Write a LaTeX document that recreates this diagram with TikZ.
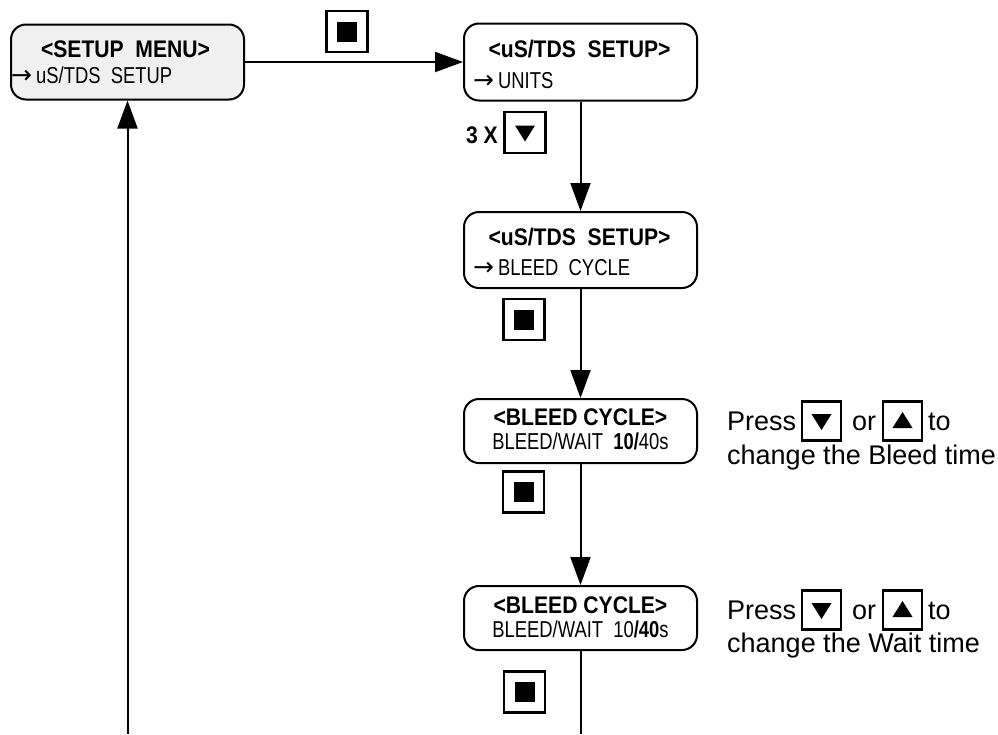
\documentclass[tikz,border=0pt]{standalone}
\usepackage{fontspec}
\setmainfont{Liberation Sans}
\newfontfamily\lcdfont{Liberation Sans}[FakeStretch=0.8]
\newfontfamily\lcdhead{Liberation Sans}[FakeStretch=0.88]
\newfontfamily\arrowfont{DejaVu Sans}
\newcommand{\selarrow}{{\arrowfont\fontsize{25pt}{24pt}\selectfont →}\hspace{4pt}}
\usetikzlibrary{arrows.meta}

\begin{document}
\begin{tikzpicture}[x=1pt, y=-1pt]
        \tikzset{
            screen/.style={draw, line width=2pt, rounded corners=15pt, minimum width=233pt, minimum height=#1, inner sep=0pt},
            head/.style={font=\lcdhead\bfseries\fontsize{24pt}{24pt}\selectfont, inner sep=0pt, anchor=base},
            row/.style={font=\lcdfont\fontsize{23pt}{24pt}\selectfont, inner sep=0pt, anchor=base west},
            note/.style={font=\fontsize{27pt}{30pt}\selectfont, inner sep=0pt, anchor=base west},
            keybox/.style={draw, line width=2.2pt, minimum size=#1, inner sep=0pt},
            stopkey/.style={keybox=41pt, path picture={
                \fill ([shift={(-10pt,-10pt)}]path picture bounding box.center) rectangle ([shift={(10pt,10pt)}]path picture bounding box.center);}},
            downkey/.style={keybox=#1, path picture={
                \fill ([shift={(-10pt,7pt)}]path picture bounding box.center) -- ([shift={(10pt,7pt)}]path picture bounding box.center) -- ([shift={(0pt,-9pt)}]path picture bounding box.center) -- cycle;}},
            upkey/.style={keybox=#1, path picture={
                \fill ([shift={(-10pt,-7pt)}]path picture bounding box.center) -- ([shift={(10pt,-7pt)}]path picture bounding box.center) -- ([shift={(0pt,9pt)}]path picture bounding box.center) -- cycle;}},
            flow/.style={line width=2pt, -{Triangle[length=28pt, width=20pt]}}
        }
        \useasboundingbox (0,0) rectangle (998,734);

        % Screen 1 - Setup menu
        \node[screen=75pt, fill=gray!12] (menu) at (127.5,62) {};
        \node[head] (menuhead) at (125.5,57) {<SETUP~~MENU>};
        \node[row] (menurow) at (11,83) {\selarrow uS/TDS~~SETUP};

        % Screen 2 - Units
        \node[screen=77pt] (units) at (580.5,62) {};
        \node[head] (unitshead) at (579.5,57) {<uS/TDS~~SETUP>};
        \node[row] (unitsrow) at (473,88) {\selarrow UNITS};

        % Screen 3 - Bleed cycle selected
        \node[screen=76pt] (cycsel) at (580.5,250) {};
        \node[head] (cycselhead) at (579.5,245) {<uS/TDS~~SETUP>};
        \node[row] (cycselrow) at (473,275) {\selarrow BLEED~~CYCLE};

        % Screen 4 - Bleed time
        \node[screen=64pt] (bleed) at (580.5,431) {};
        \node[head] (bleedhead) at (580.5,425) {<BLEED~CYCLE>};
        \node[row, anchor=base] (bleedrow) at (580.5,449) {BLEED/WAIT~~\textbf{10/}40s};

        % Screen 5 - Wait time
        \node[screen=64pt] (wait) at (580.5,618) {};
        \node[head] (waithead) at (580.5,613) {<BLEED~CYCLE>};
        \node[row, anchor=base] (waitrow) at (580.5,637) {BLEED/WAIT~~10\textbf{/40}s};

        % Keys
        \node[stopkey] (enter1) at (347,31.5) {};
        \node[downkey=41pt] (down) at (525,132.5) {};
        \node[head, anchor=base east] (times) at (498,143) {3 X};
        \node[stopkey] (enter2) at (524,319.5) {};
        \node[stopkey] (enter3) at (523.5,492) {};
        \node[stopkey] (enter4) at (524.5,692) {};

        % Notes
        \node[note] (press1) at (727,430) {Press};
        \node[downkey=39pt] (down1) at (821.5,421) {};
        \node[note] (or1) at (852,430) {or};
        \node[upkey=39pt] (up1) at (902.5,421) {};
        \node[note] (to1) at (928,430) {to};
        \node[note] (bleednote) at (727,464) {change the Bleed time};

        \node[note] (press2) at (727,619) {Press};
        \node[downkey=39pt] (down2) at (821.5,610) {};
        \node[note] (or2) at (852,619) {or};
        \node[upkey=39pt] (up2) at (902.5,610) {};
        \node[note] (to2) at (928,619) {to};
        \node[note] (waitnote) at (727,652) {change the Wait time};

        % Connectors
        \coordinate (back) at (127.5,734);
        \coordinate (next) at (580.5,734);
        \draw[flow] (menu.east) -- (units.west);
        \draw[flow] (units.south) -- (cycsel.north);
        \draw[flow] (cycsel.south) -- (bleed.north);
        \draw[flow] (bleed.south) -- (wait.north);
        \draw[line width=2pt] (wait.south) -- (next);
        \draw[flow] (back) -- (menu.south);
    \end{tikzpicture}
\end{document}
